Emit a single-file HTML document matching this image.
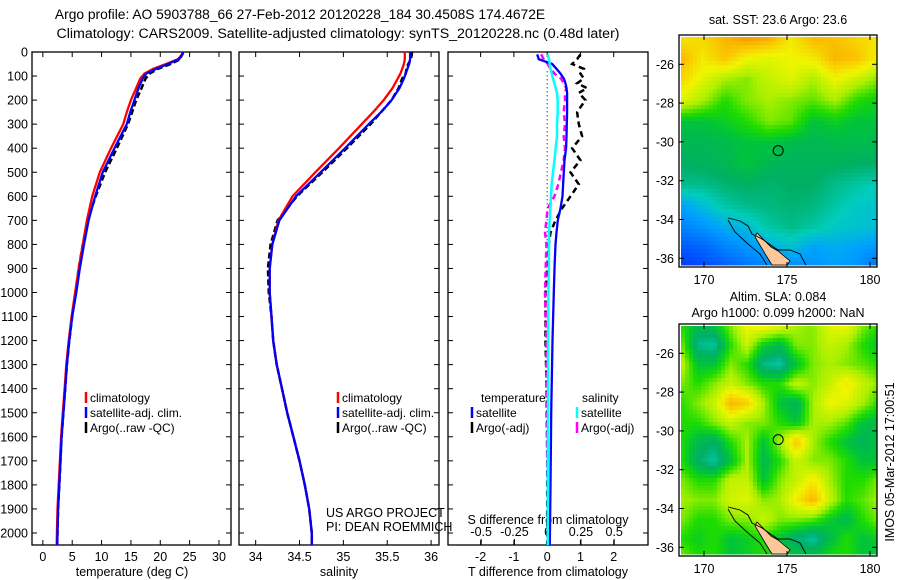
<!DOCTYPE html>
<html><head><meta charset="utf-8">
<style>
html,body{margin:0;padding:0;background:#fff;}
svg{display:block;font-family:"Liberation Sans",sans-serif;}
text{fill:#000;}
</style></head>
<body>
<svg id="fig" width="900" height="580" viewBox="0 0 900 580" xmlns="http://www.w3.org/2000/svg">
<text x="300" y="19" font-size="13.8" text-anchor="middle">Argo profile: AO 5903788_66 27-Feb-2012 20120228_184 30.4508S 174.4672E</text>
<text x="338" y="38" font-size="14.2" text-anchor="middle">Climatology: CARS2009. Satellite-adjusted climatology: synTS_20120228.nc (0.48d later)</text>
<g id="g"></g>
</svg>
<script>
// ---------- data ----------
const depthT = [0,10,30,50,70,90,110,150,200,250,300,400,500,600,700,800,900,1000,1100,1200,1300,1400,1500,1600,1700,1800,1900,2000,2050];
const tempClim = [23.8,23.7,23.0,21.0,18.8,17.3,16.6,15.9,15.0,14.3,13.7,11.6,9.7,8.4,7.5,6.8,6.1,5.5,4.9,4.4,4.0,3.7,3.4,3.1,2.9,2.7,2.5,2.4,2.35];
const tempSat  = [23.9,23.8,23.2,21.3,19.3,17.6,17.0,16.3,15.6,14.9,14.3,12.2,10.2,8.9,7.8,7.0,6.3,5.7,5.0,4.5,4.1,3.8,3.5,3.2,3.0,2.8,2.6,2.5,2.45];
const tempArgo = [23.8,23.7,23.4,21.8,19.6,18.2,17.5,16.8,15.9,15.2,14.5,12.6,10.6,9.0,7.6,6.8,6.1,5.6,5.0,4.5,4.1,3.8,3.5,3.2,3.0,2.8,2.6,2.5,2.45];
const salClim = [35.7,35.7,35.7,35.69,35.67,35.65,35.62,35.56,35.46,35.34,35.21,34.95,34.68,34.42,34.26,34.19,34.16,34.16,34.18,34.2,34.24,34.3,34.36,34.43,34.5,34.56,34.61,34.64,34.64];
const salSat  = [35.76,35.76,35.76,35.75,35.73,35.71,35.69,35.64,35.55,35.43,35.29,35.02,34.74,34.46,34.27,34.19,34.16,34.16,34.18,34.2,34.24,34.3,34.36,34.43,34.5,34.56,34.61,34.64,34.64];
const salArgo = [35.78,35.78,35.77,35.74,35.72,35.71,35.67,35.63,35.55,35.43,35.31,35.04,34.76,34.47,34.25,34.17,34.14,34.15,34.18,34.2,34.24,34.3,34.36,34.43,34.5,34.56,34.61,34.64,34.64];
const depthD = [10,30,50,70,90,110,130,150,170,200,250,300,350,400,450,500,550,600,650,700,750,800,900,1000,1200,1500,1800,2050];
const tDiffSat  = [-0.3,-0.25,0.15,0.28,0.4,0.5,0.55,0.58,0.6,0.6,0.6,0.59,0.58,0.57,0.52,0.5,0.48,0.46,0.4,0.32,0.28,0.25,0.22,0.2,0.16,0.12,0.1,0.08];
const tDiffArgo = [1.0,0.9,0.75,1.1,1.0,1.1,0.9,1.2,0.95,1.15,0.9,0.95,1.05,0.75,1.0,0.7,0.95,0.7,0.45,0.25,0.1,0.05,0.0,-0.05,-0.05,0.0,0.0,0.0];
const sDiffSat  = [0.0,0.01,0.015,0.02,0.03,0.04,0.05,0.06,0.07,0.075,0.075,0.07,0.07,0.06,0.05,0.04,0.03,0.025,0.02,0.015,0.01,0.01,0.008,0.005,0.003,0.002,0.0,0.0];
const sDiffArgo = [-0.05,-0.03,0.0,0.02,0.05,0.1,0.12,0.14,0.13,0.13,0.12,0.13,0.12,0.13,0.12,0.1,0.08,0.05,0.0,-0.01,-0.02,-0.01,-0.015,-0.02,-0.01,-0.01,0.0,0.0];
const depthTicks = [0,100,200,300,400,500,600,700,800,900,1000,1100,1200,1300,1400,1500,1600,1700,1800,1900,2000];
const tempTicks = [0,5,10,15,20,25,30];
const salTicks = [34,34.5,35,35.5,36];
const tdTicks = [-2,-1,0,1,2];
const sdTicks = [-0.5,-0.25,0,0.25,0.5];
const sdTickLabels = ["-0.5","-0.25","0","0.25","0.5"];
const lonTicks = [170,175,180];
const latTicks = [-26,-28,-30,-32,-34,-36];
const sstGrid = [
[.72,.75,.8,.85,.82,.72,.8,.78,.75,.72],
[.8,.72,.78,.7,.68,.7,.72,.8,.78,.7],
[.75,.68,.62,.6,.65,.68,.62,.7,.65,.6],
[.68,.62,.55,.6,.62,.6,.58,.62,.55,.52],
[.5,.5,.52,.55,.6,.58,.5,.52,.5,.5],
[.47,.47,.48,.5,.5,.48,.47,.48,.48,.48],
[.45,.46,.47,.5,.47,.46,.46,.46,.45,.45],
[.42,.42,.44,.45,.44,.45,.45,.42,.4,.38],
[.3,.35,.4,.42,.43,.44,.43,.4,.37,.36],
[.25,.28,.32,.35,.4,.42,.4,.37,.36,.35],
[.18,.2,.25,.28,.32,.35,.3,.32,.3,.28],
[.12,.15,.18,.22,.25,.25,.28,.3,.28,.2]];
const slaGrid = [
[.55,.48,.5,.6,.7,.72,.68,.62,.6,.68,.7,.6,.55],
[.6,.42,.4,.55,.65,.52,.48,.6,.6,.65,.62,.55,.5],
[.65,.5,.5,.6,.55,.42,.4,.5,.6,.62,.6,.58,.55],
[.6,.55,.6,.65,.6,.55,.55,.65,.6,.65,.72,.65,.6],
[.55,.6,.65,.8,.76,.62,.5,.46,.62,.7,.68,.62,.55],
[.55,.55,.6,.65,.6,.6,.55,.5,.62,.62,.58,.5,.48],
[.55,.48,.45,.55,.62,.5,.62,.78,.62,.55,.5,.46,.5],
[.55,.45,.4,.5,.62,.48,.55,.65,.6,.6,.55,.5,.5],
[.6,.55,.55,.65,.65,.5,.6,.65,.72,.62,.55,.55,.6],
[.62,.6,.6,.66,.68,.6,.62,.72,.8,.65,.55,.58,.62],
[.6,.55,.55,.6,.6,.65,.6,.6,.58,.52,.48,.55,.6],
[.55,.52,.55,.5,.52,.55,.5,.44,.4,.48,.55,.5,.52],
[.6,.55,.55,.5,.52,.55,.5,.5,.5,.55,.55,.5,.5]];

// ---------- helpers ----------
const NS="http://www.w3.org/2000/svg";
const G=document.getElementById('g');
function mk(tag,attrs,parent){const e=document.createElementNS(NS,tag);for(const k in attrs)e.setAttribute(k,attrs[k]);(parent||G).appendChild(e);return e;}
function txt(x,y,s,size,anchor,parent){const t=mk('text',{x:x,y:y,'font-size':size,'text-anchor':anchor||'middle'},parent);t.textContent=s;return t;}
const yD = d => 52 + d*0.2405;
const panels = [
 {name:'temperature-panel',x0:32,x1:231,vmin:-1.85,vmax:32.05},
 {name:'salinity-panel',x0:239,x1:439,vmin:33.81,vmax:36.09},
 {name:'difference-panel',x0:448,x1:648,vmin:-2.98,vmax:3.03}];
function xs(p,v){return p.x0+(v-p.vmin)/(p.vmax-p.vmin)*(p.x1-p.x0);}
const sdScale = v => 547.7 + v*133;

panels.forEach((p,i)=>{
  const g=mk('g',{});
  
  
  const r=mk('rect',{x:p.x0,y:52,width:p.x1-p.x0,height:493,fill:'none',stroke:'#000','stroke-width':1.3},g);
  
  
  depthTicks.forEach(d=>{
    mk('line',{x1:p.x0,x2:p.x0+5,y1:yD(d),y2:yD(d),stroke:'#000'},g);
    mk('line',{x1:p.x1,x2:p.x1-5,y1:yD(d),y2:yD(d),stroke:'#000'},g);
    if(i===0){const t=txt(28,yD(d)+4.5,String(d),12.5,'end',g);
      
      }
  });
});
function xTicks(p,ticks,labels,name){
  ticks.forEach((v,k)=>{const x=xs(p,v);
    mk('line',{x1:x,x2:x,y1:545,y2:540,stroke:'#000'});
    mk('line',{x1:x,x2:x,y1:52,y2:57,stroke:'#000'});
    const t=txt(x,561,labels?labels[k]:String(v),12.5);
    
    });
}
xTicks(panels[0],tempTicks,null,'temperature-tick-label');
xTicks(panels[1],salTicks,null,'salinity-tick-label');
xTicks(panels[2],tdTicks,null,'t-difference-tick-label');
sdTicks.forEach((v,k)=>{const x=sdScale(v);
  mk('line',{x1:x,x2:x,y1:545,y2:539,stroke:'#000'});
  const t=txt(x,536,sdTickLabels[k],12.5);
  
  });
let t;
t=txt(132,576,'temperature (deg C)',12.5);
t=txt(339,576,'salinity',12.5);
t=txt(548,576,'T difference from climatology',12.5);
t=txt(548,524,'S difference from climatology',12.5);
t=txt(326,517,'US ARGO PROJECT',12.5,'start');
t=txt(326,531,'PI: DEAN ROEMMICH',12.5,'start');

function line(xf,vals,depths,color,w,dash,name){
  const pts=vals.map((v,k)=>xf(v).toFixed(1)+','+yD(depths[k]).toFixed(1)).join(' ');
  const l=mk('polyline',{points:pts,fill:'none',stroke:color,'stroke-width':w,'stroke-dasharray':dash||'none'});
  
  
}
const xT=v=>xs(panels[0],v), xS=v=>xs(panels[1],v), xTD=v=>xs(panels[2],v);
const z=mk('line',{x1:xTD(0),x2:xTD(0),y1:yD(80),y2:yD(830),stroke:'#000','stroke-dasharray':'1,3'});

line(xT,tempArgo,depthT,'#000',2.5,'6,3','temperature-argo-line');
line(xT,tempClim,depthT,'#f00',2.3,null,'temperature-climatology-line');
line(xT,tempSat,depthT,'#00f',2.3,null,'temperature-satellite-line');
line(xS,salArgo,depthT,'#000',2.5,'6,3','salinity-argo-line');
line(xS,salClim,depthT,'#f00',2.3,null,'salinity-climatology-line');
line(xS,salSat,depthT,'#00f',2.3,null,'salinity-satellite-line');
line(xTD,tDiffArgo,depthD,'#000',2.5,'6,4','t-diff-argo-line');
line(sdScale,sDiffArgo,depthD,'#f0f',2.5,'6,4','s-diff-argo-line');
line(xTD,tDiffSat,depthD,'#00f',2.3,null,'t-diff-satellite-line');
line(sdScale,sDiffSat,depthD,'#0ff',2.5,null,'s-diff-satellite-line');

function legendEntry(x,y,color,label,name){
  const g=mk('g',{});
  
  
  mk('line',{x1:x,x2:x,y1:y-10,y2:y+1,stroke:color,'stroke-width':2.5},g);
  txt(x+4,y,label,12,'start',g);
}
[[86,'climatology','#f00'],[86,'satellite-adj. clim.','#00f'],[86,'Argo(..raw -QC)','#000']].forEach((e,k)=>{
  legendEntry(e[0],402+k*15,e[2],e[1],'temperature-legend-entry');
  legendEntry(338,402+k*15,e[2],e[1],'salinity-legend-entry');
});
t=txt(481,402,'temperature',12,'start');
t=txt(582,402,'salinity',12,'start');
legendEntry(472,417,'#00f','satellite','t-diff-satellite-legend');
legendEntry(472,432,'#000','Argo(-adj)','t-diff-argo-legend');
legendEntry(577,417,'#0ff','satellite','s-diff-satellite-legend');
legendEntry(577,432,'#f0f','Argo(-adj)','s-diff-argo-legend');

// ---------- maps ----------
const stops=[[0,[0,0,150]],[.15,[0,70,255]],[.3,[0,160,255]],[.38,[0,205,190]],[.45,[0,175,100]],[.5,[0,195,60]],[.55,[30,220,0]],[.62,[170,240,0]],[.7,[240,245,0]],[.78,[250,195,0]],[.86,[245,145,0]],[1,[220,60,0]]];
function cmap(v){for(let i=1;i<stops.length;i++){if(v<=stops[i][0]){const a=stops[i-1],b=stops[i],f=(v-a[0])/(b[0]-a[0]);return 'rgb('+a[1].map((c,j)=>Math.round(c+f*(b[1][j]-c))).join(',')+')';}}return 'rgb(220,60,0)';}
function sample(grid,u,v){const R=grid.length-1,C=grid[0].length-1;const x=Math.max(0,Math.min(C,u*C)),y=Math.max(0,Math.min(R,v*R));const i=Math.min(Math.floor(y),R-1),j=Math.min(Math.floor(x),C-1);const fx=x-j,fy=y-i;return grid[i][j]*(1-fx)*(1-fy)+grid[i][j+1]*fx*(1-fy)+grid[i+1][j]*(1-fx)*fy+grid[i+1][j+1]*fx*fy;}
function drawMap(top,grid,cell,name){
  const L=679,R=877,B=top+232;
  const lonX=lon=>704+(lon-170)*16.6, latY=lat=>top+29.3+(-lat-26)*19.4;
  const g=mk('g',{});
  
  
  for(let y=top+2;y<B-2;y+=cell){for(let x=L+2;x<R-2;x+=cell){
    const v=sample(grid,(x-L)/(R-L),(y-top)/(B-top));
    mk('rect',{x:x,y:y,width:cell+0.5,height:cell+0.5,fill:cmap(v)},g);}}
  const land=[[757,233],[764,240],[771,247],[778,251],[784,256],[790,261],[787,265],[772,265],[767,257],[761,247],[755,237]];
  const sh=top-35;
  const lp=mk('polygon',{points:land.map(p=>p[0]+','+(p[1]+sh)).join(' '),fill:'#fdc79a',stroke:'#000','stroke-width':0.8},g);
  
  const c1=[[728,218],[740,221],[748,226],[752,234],[762,239],[772,246],[778,250],[790,250],[800,254],[806,265]];
  const c2=[[728,220],[735,232],[748,244],[760,254],[767,265]];
  [c1,c2].forEach(c=>mk('polyline',{points:c.map(p=>p[0]+','+(p[1]+sh)).join(' '),fill:'none',stroke:'#000','stroke-width':0.9},g));
  const fr=mk('rect',{x:L,y:top,width:R-L,height:B-top,fill:'none',stroke:'#000','stroke-width':1.3},g);
  
  lonTicks.forEach(lon=>{const x=lonX(lon);mk('line',{x1:x,x2:x,y1:B,y2:B-5,stroke:'#000'},g);mk('line',{x1:x,x2:x,y1:top,y2:top+5,stroke:'#000'},g);
    const tt=txt(x,B+17,String(lon),12.5,'middle',g);});
  latTicks.forEach(lat=>{const y=latY(lat);mk('line',{x1:L,x2:L+5,y1:y,y2:y,stroke:'#000'},g);mk('line',{x1:R,x2:R-5,y1:y,y2:y,stroke:'#000'},g);
    const tt=txt(L-5,y+4.5,String(lat),12.5,'end',g);});
  const c=mk('circle',{cx:lonX(174.47),cy:latY(-30.45),r:5,fill:'none',stroke:'#000','stroke-width':1},g);
  
}
drawMap(35,sstGrid,4,'sst-map');
drawMap(324,slaGrid,4,'sla-map');
t=txt(778,24,'sat. SST: 23.6  Argo: 23.6',12.5);
t=txt(778,301,'Altim. SLA: 0.084',12.5);
t=txt(778,317,'Argo h1000: 0.099 h2000: NaN',12.5);
t=mk('text',{x:0,y:0,'font-size':12.5,'text-anchor':'middle',transform:'translate(894,462) rotate(-90)'});
t.textContent='IMOS 05-Mar-2012 17:00:51';


</script>
</body></html>
